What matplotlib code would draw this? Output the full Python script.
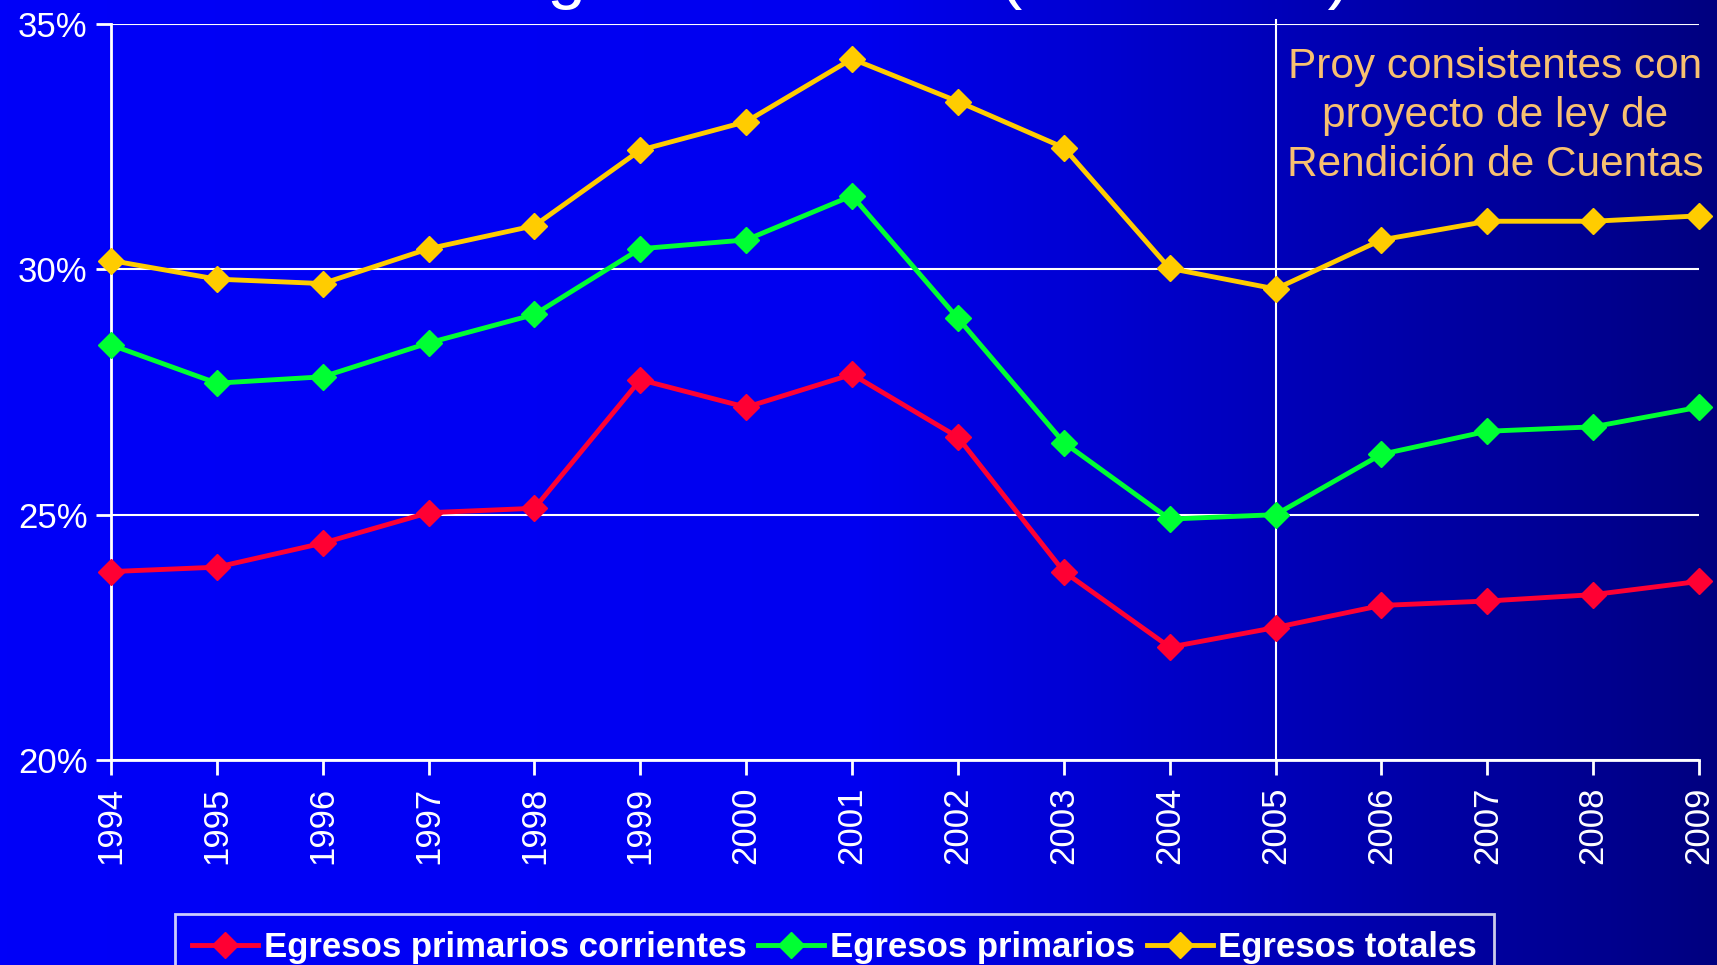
import numpy as np
import matplotlib
matplotlib.use('Agg')
import matplotlib.pyplot as plt

plt.rcParams['font.family'] = ['Liberation Sans', 'DejaVu Sans']

# data (% of GDP)
years = [1994, 1995, 1996, 1997, 1998, 1999, 2000, 2001,
         2002, 2003, 2004, 2005, 2006, 2007, 2008, 2009]
corrientes = [23.84, 23.93, 24.42, 25.04, 25.13, 27.75, 27.19, 27.86,
              26.58, 23.84, 22.30, 22.70, 23.15, 23.24, 23.37, 23.64]
primarios = [28.46, 27.68, 27.81, 28.50, 29.08, 30.42, 30.60, 31.50,
             29.00, 26.47, 24.91, 25.00, 26.23, 26.70, 26.79, 27.19]
totales = [30.18, 29.80, 29.71, 30.42, 30.89, 32.43, 33.01, 34.29,
           33.42, 32.48, 30.02, 29.60, 30.60, 30.98, 30.98, 31.09]
series_names = ['Egresos primarios corrientes', 'Egresos primarios', 'Egresos totales']
series_colors = ['#FF0033', '#00FF33', '#FFCC00']
y_ticks = [20, 25, 30, 35]
proj_year = 2005
note = 'Proy consistentes con\nproyecto de ley de\nRendición de Cuentas'
title = 'Egresos totales (% del PIB)'

fig = plt.figure(figsize=(17.17, 9.65), dpi=100)

# gradient background, bright blue on the left to navy on the right
bg = fig.add_axes([0, 0, 1, 1], zorder=-10)
grad = np.linspace(0, 1, 512).reshape(1, -1)
cmap = matplotlib.colors.LinearSegmentedColormap.from_list('bg', ['#0000F8', '#0000F0', '#000080'])
bg.imshow(grad, aspect='auto', cmap=cmap, extent=[0, 1, 0, 1])
bg.axis('off')

ax = fig.add_axes([111 / 1717, 1 - 760 / 965, (1699 - 111) / 1717, (760 - 24) / 965])
ax.patch.set_alpha(0)

for vals, name, col in zip([corrientes, primarios, totales], series_names, series_colors):
    ax.plot(years, vals, color=col, lw=3.5, marker='D', markersize=13,
            markeredgecolor=col, label=name, clip_on=False, zorder=5)

ax.set_xlim(years[0], years[-1])
ax.set_ylim(20, 35)
ax.set_xticks(years)
ax.set_xticklabels([str(y) for y in years], rotation=90)
ax.set_yticks(y_ticks)
ax.set_yticklabels([f'{t}%' for t in y_ticks])
ax.tick_params(colors='white', labelsize=25, length=11, width=2, direction='out')
ax.tick_params(axis='x', pad=8)
ax.tick_params(axis='y', pad=6)
ax.grid(axis='y', color='white', lw=1.5)
ax.set_axisbelow(True)
for s in ['top', 'right']:
    ax.spines[s].set_visible(False)
for s in ['left', 'bottom']:
    ax.spines[s].set_color('white')
    ax.spines[s].set_linewidth(2)

ax.axvline(proj_year, color='white', lw=1.5, ymax=1.005, clip_on=False)
ax.text(0.8715, 0.875, note, transform=ax.transAxes, ha='center', va='center',
        color='#F8C070', fontsize=30.5, linespacing=1.3)

# slide title sits mostly above the picture, only descenders show
fig.text(501 / 1717, 1 + 4 / 965, title, ha='left', va='baseline', color='white', fontsize=50)

leg = fig.legend(loc='upper left', bbox_to_anchor=(175 / 1717, 1 - 914 / 965),
                 ncol=3, frameon=True, fancybox=False, facecolor='none',
                 edgecolor='white', handlelength=1.9, borderaxespad=0,
                 handletextpad=0.15, columnspacing=0.35, borderpad=0.5,
                 prop={'weight': 'bold', 'size': 25})
leg.get_frame().set_linewidth(2)
for t in leg.get_texts():
    t.set_color('white')

plt.savefig('out.png', dpi=100)
plt.close()
